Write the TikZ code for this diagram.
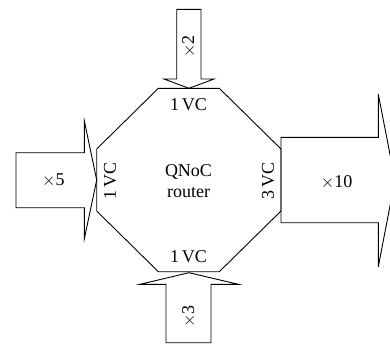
\documentclass[tikz,border=0pt]{standalone}
\usepackage{fontspec}
\setmainfont{Liberation Serif}
\begin{document}
\begin{tikzpicture}[x=1pt,y=-1pt,
  shapeline/.style={draw=black,line width=0.9pt,line join=miter},
  lbl/.style={font=\fontsize{18}{21.5}\selectfont,inner sep=0pt,align=center}]
\useasboundingbox (0,0) rectangle (390,354);
\clip (0,0) rectangle (390,354);
% router octagon
\draw[shapeline] (158.3,88.3) -- (219.3,88.3) -- (281,149) -- (281,211) -- (219.3,271.7) -- (158.3,271.7) -- (96.7,211) -- (96.7,149) -- cycle;
% top arrow
\draw[shapeline] (176.7,9.3) -- (201,9.3) -- (201,79) -- (214,79) -- (189,88.3) -- (164,79) -- (176.7,79) -- cycle;
% bottom arrow
\draw[shapeline] (166,342.7) -- (211,342.7) -- (211,284.3) -- (238.3,284.3) -- (189,272.7) -- (140,284.3) -- (166,284.3) -- cycle;
% left arrow
\draw[shapeline] (16,152.7) -- (84.3,152.7) -- (84.3,120.7) -- (96.7,180) -- (84.3,239) -- (84.3,207.7) -- (16,207.7) -- cycle;
% right arrow
\draw[shapeline] (281,137.3) -- (378.3,137.3) -- (378.3,94.3) -- (395,180) -- (378.3,266.7) -- (378.3,222.7) -- (281,222.7) -- cycle;
% labels
\node[lbl] (router) at (188.5,181) {QNoC\\router};
\node[lbl] (vctop) at (188.5,105) {1\,VC};
\node[lbl] (vcbot) at (188.5,256.5) {1\,VC};
\node[lbl,rotate=90] (vcleft) at (110,181) {1\,VC};
\node[lbl,rotate=90] (vcright) at (268,181) {3\,VC};
\node[lbl,rotate=90] (m2) at (189,46.7) {$\times$2};
\node[lbl,rotate=90] (m3) at (189,316.7) {$\times$3};
\node[lbl] (m5) at (53.3,180.5) {$\times$5};
\node[lbl] (m10) at (336.7,182) {$\times$10};
\end{tikzpicture}
\end{document}
